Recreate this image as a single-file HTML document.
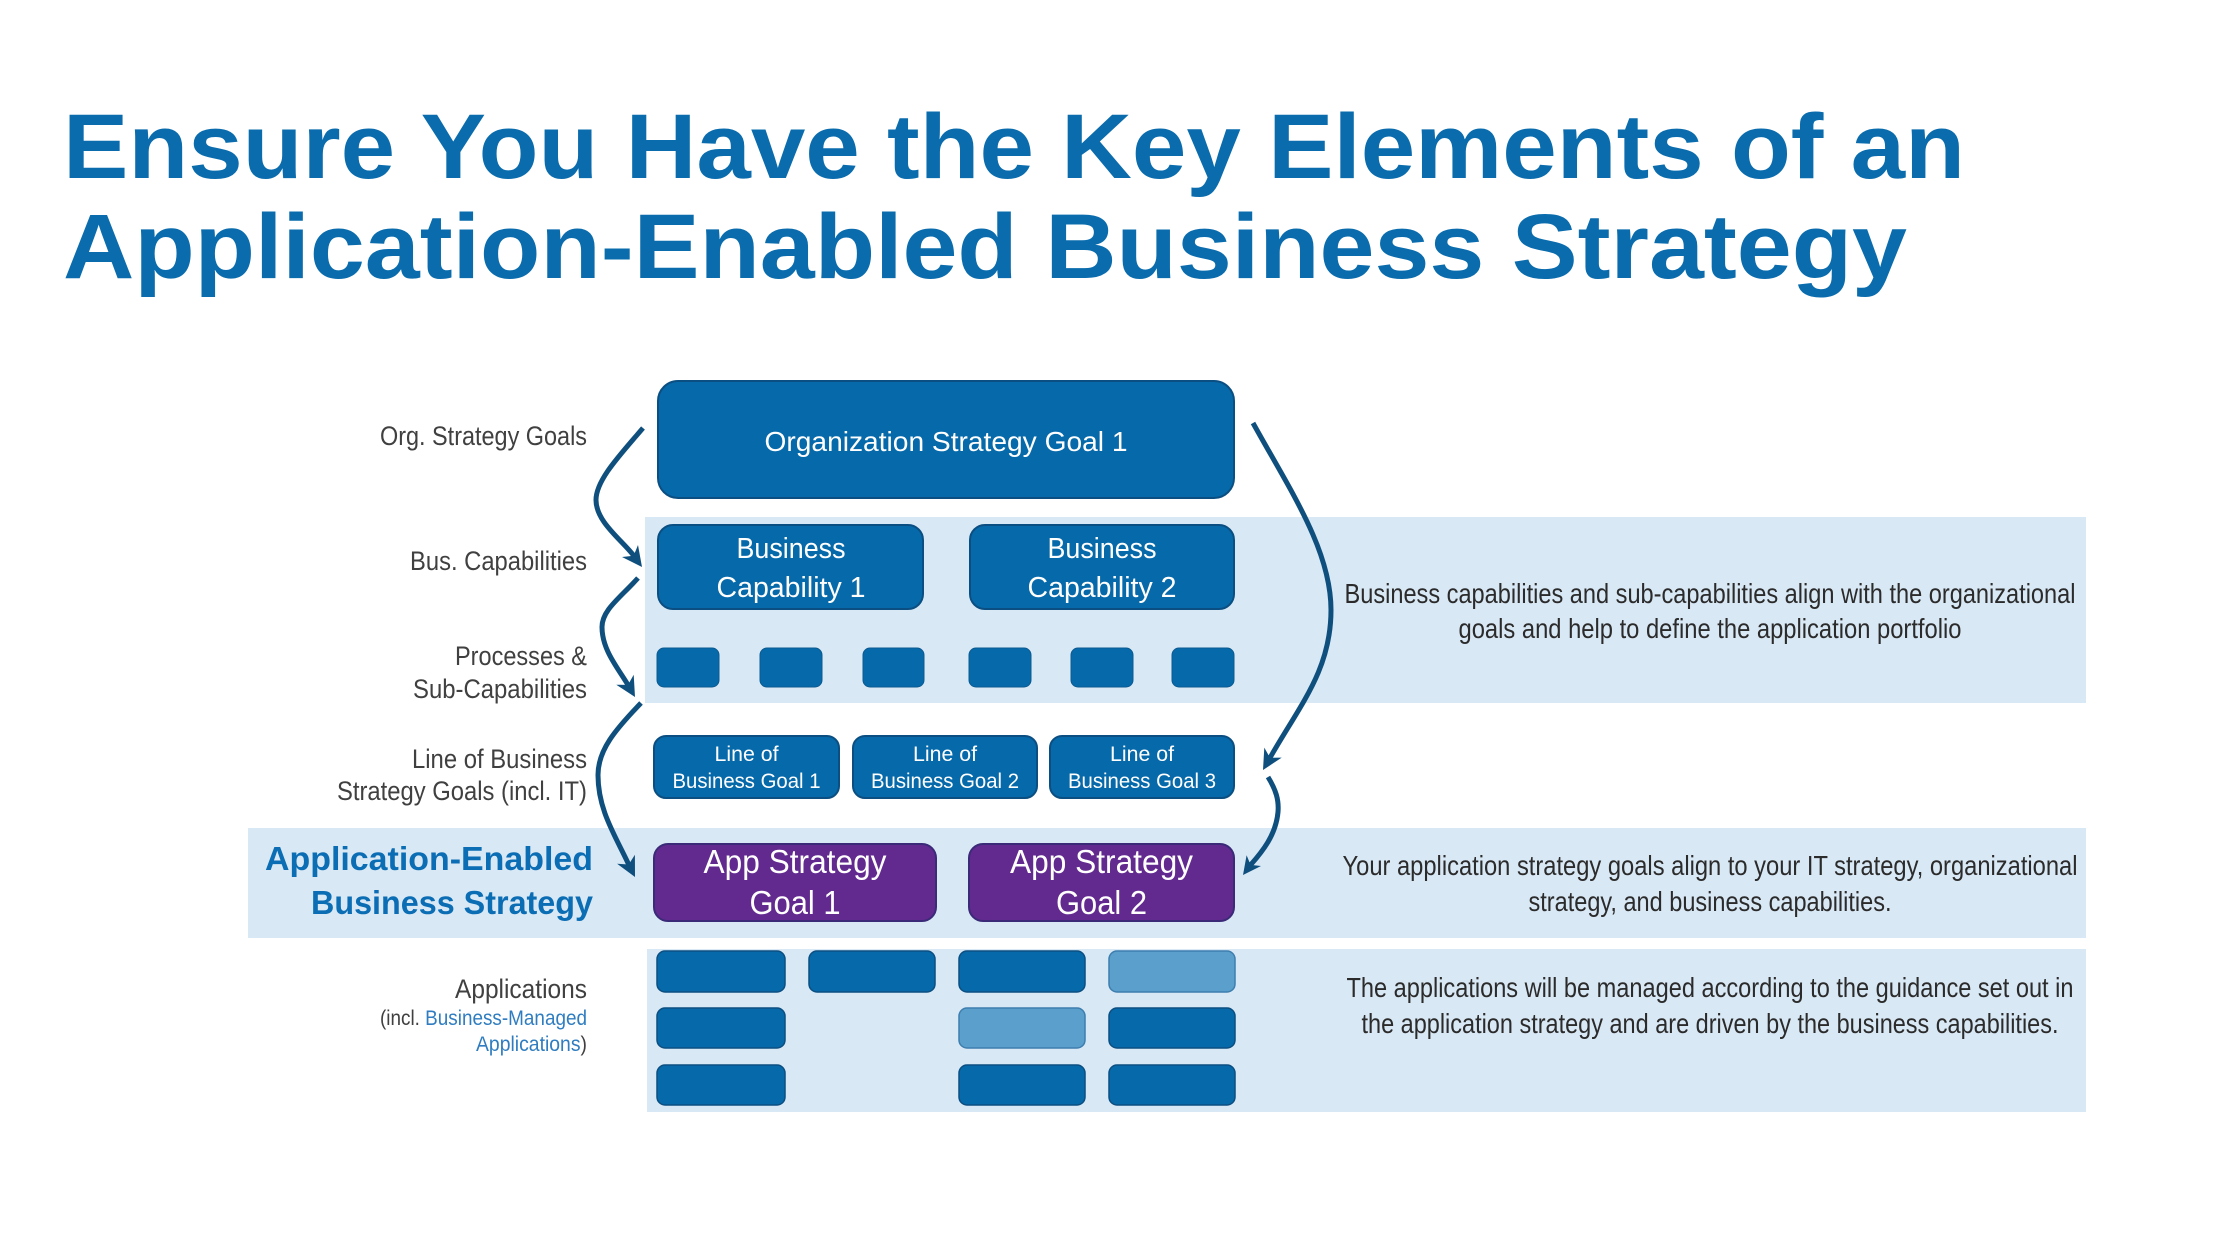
<!DOCTYPE html>
<html>
<head>
<meta charset="utf-8">
<style>
  html,body{margin:0;padding:0;background:#ffffff;}
  svg{display:block;}
  text{font-family:"Liberation Sans", sans-serif;}
</style>
</head>
<body>
<svg width="2236" height="1256" viewBox="0 0 2236 1256" xmlns="http://www.w3.org/2000/svg">
  <!-- Title -->
  <text x="63" y="178" font-size="92" font-weight="bold" fill="#0a6cad" textLength="1902" lengthAdjust="spacingAndGlyphs">Ensure You Have the Key Elements of an</text>
  <text x="63" y="278" font-size="92" font-weight="bold" fill="#0a6cad" textLength="1844" lengthAdjust="spacingAndGlyphs">Application-Enabled Business Strategy</text>

  <!-- Light bands -->
  <rect x="645" y="517" width="1441" height="186" fill="#d9e8f5"/>
  <rect x="248" y="828" width="1838" height="110" fill="#d9e8f5"/>
  <rect x="647" y="949" width="1439" height="163" fill="#d9e8f5"/>

  <!-- Org strategy goal -->
  <rect x="658" y="381" width="576" height="117" rx="20" fill="#0669aa" stroke="#0b4f82" stroke-width="2"/>
  <text x="946" y="451" font-size="28" fill="#ffffff" text-anchor="middle" textLength="363" lengthAdjust="spacingAndGlyphs">Organization Strategy Goal 1</text>

  <!-- Business capabilities -->
  <rect x="658" y="525" width="265" height="84" rx="15" fill="#0669aa" stroke="#0b4f82" stroke-width="2"/>
  <rect x="970" y="525" width="264" height="84" rx="15" fill="#0669aa" stroke="#0b4f82" stroke-width="2"/>
  <text x="791" y="558" font-size="29" fill="#ffffff" text-anchor="middle" textLength="109" lengthAdjust="spacingAndGlyphs">Business</text>
  <text x="791" y="597" font-size="29" fill="#ffffff" text-anchor="middle" textLength="149" lengthAdjust="spacingAndGlyphs">Capability 1</text>
  <text x="1102" y="558" font-size="29" fill="#ffffff" text-anchor="middle" textLength="109" lengthAdjust="spacingAndGlyphs">Business</text>
  <text x="1102" y="597" font-size="29" fill="#ffffff" text-anchor="middle" textLength="149" lengthAdjust="spacingAndGlyphs">Capability 2</text>

  <!-- Processes squares -->
  <g fill="#0669aa" stroke="#0b5a90" stroke-width="1">
    <rect x="657" y="648" width="62" height="39" rx="7"/>
    <rect x="760" y="648" width="62" height="39" rx="7"/>
    <rect x="863" y="648" width="61" height="39" rx="7"/>
    <rect x="969" y="648" width="62" height="39" rx="7"/>
    <rect x="1071" y="648" width="62" height="39" rx="7"/>
    <rect x="1172" y="648" width="62" height="39" rx="7"/>
  </g>

  <!-- Line of business goals -->
  <g fill="#0669aa" stroke="#0b4f82" stroke-width="2">
    <rect x="654" y="736" width="185" height="62" rx="12"/>
    <rect x="853" y="736" width="184" height="62" rx="12"/>
    <rect x="1050" y="736" width="184" height="62" rx="12"/>
  </g>
  <g font-size="21" fill="#ffffff" text-anchor="middle">
    <text x="746.5" y="761" textLength="64" lengthAdjust="spacingAndGlyphs">Line of</text>
    <text x="746.5" y="788" textLength="148" lengthAdjust="spacingAndGlyphs">Business Goal 1</text>
    <text x="945" y="761" textLength="64" lengthAdjust="spacingAndGlyphs">Line of</text>
    <text x="945" y="788" textLength="148" lengthAdjust="spacingAndGlyphs">Business Goal 2</text>
    <text x="1142" y="761" textLength="64" lengthAdjust="spacingAndGlyphs">Line of</text>
    <text x="1142" y="788" textLength="148" lengthAdjust="spacingAndGlyphs">Business Goal 3</text>
  </g>

  <!-- App strategy goals -->
  <rect x="654" y="844" width="282" height="77" rx="14" fill="#62298f" stroke="#3a2a78" stroke-width="2"/>
  <rect x="969" y="844" width="265" height="77" rx="14" fill="#62298f" stroke="#3a2a78" stroke-width="2"/>
  <g font-size="33" fill="#ffffff" text-anchor="middle">
    <text x="795" y="873" textLength="183" lengthAdjust="spacingAndGlyphs">App Strategy</text>
    <text x="795" y="914" textLength="91" lengthAdjust="spacingAndGlyphs">Goal 1</text>
    <text x="1101.5" y="873" textLength="183" lengthAdjust="spacingAndGlyphs">App Strategy</text>
    <text x="1101.5" y="914" textLength="91" lengthAdjust="spacingAndGlyphs">Goal 2</text>
  </g>

  <!-- Applications -->
  <g stroke-width="1.5">
    <rect x="657" y="951" width="128" height="41" rx="8" fill="#0669aa" stroke="#0b4f82"/>
    <rect x="809" y="951" width="126" height="41" rx="8" fill="#0669aa" stroke="#0b4f82"/>
    <rect x="959" y="951" width="126" height="41" rx="8" fill="#0669aa" stroke="#0b4f82"/>
    <rect x="1109" y="951" width="126" height="41" rx="8" fill="#5ba0cc" stroke="#3d7eae"/>

    <rect x="657" y="1008" width="128" height="40" rx="8" fill="#0669aa" stroke="#0b4f82"/>
    <rect x="959" y="1008" width="126" height="40" rx="8" fill="#5ba0cc" stroke="#3d7eae"/>
    <rect x="1109" y="1008" width="126" height="40" rx="8" fill="#0669aa" stroke="#0b4f82"/>

    <rect x="657" y="1065" width="128" height="40" rx="8" fill="#0669aa" stroke="#0b4f82"/>
    <rect x="959" y="1065" width="126" height="40" rx="8" fill="#0669aa" stroke="#0b4f82"/>
    <rect x="1109" y="1065" width="126" height="40" rx="8" fill="#0669aa" stroke="#0b4f82"/>
  </g>

  <!-- Left labels -->
  <g font-size="27" fill="#404040" text-anchor="end">
    <text x="587" y="445" textLength="207" lengthAdjust="spacingAndGlyphs">Org. Strategy Goals</text>
    <text x="587" y="570" textLength="177" lengthAdjust="spacingAndGlyphs">Bus. Capabilities</text>
    <text x="587" y="665" textLength="132" lengthAdjust="spacingAndGlyphs">Processes &amp;</text>
    <text x="587" y="698" textLength="174" lengthAdjust="spacingAndGlyphs">Sub-Capabilities</text>
    <text x="587" y="768" textLength="175" lengthAdjust="spacingAndGlyphs">Line of Business</text>
    <text x="587" y="800" textLength="250" lengthAdjust="spacingAndGlyphs">Strategy Goals (incl. IT)</text>
    <text x="587" y="998" textLength="132" lengthAdjust="spacingAndGlyphs">Applications</text>
  </g>
  <g font-size="21" text-anchor="end">
    <text x="587" y="1025" fill="#404040" textLength="207" lengthAdjust="spacingAndGlyphs">(incl. <tspan fill="#2f7dc0">Business-Managed</tspan></text>
    <text x="587" y="1051" fill="#2f7dc0" textLength="111" lengthAdjust="spacingAndGlyphs">Applications<tspan fill="#404040">)</tspan></text>
  </g>
  <g font-size="33" font-weight="bold" fill="#0b6db4" text-anchor="end">
    <text x="593" y="870" textLength="328" lengthAdjust="spacingAndGlyphs">Application-Enabled</text>
    <text x="593" y="914" textLength="282" lengthAdjust="spacingAndGlyphs">Business Strategy</text>
  </g>

  <!-- Right descriptions -->
  <g font-size="28" fill="#2b2b2b" text-anchor="middle">
    <text x="1710" y="603" textLength="731" lengthAdjust="spacingAndGlyphs">Business capabilities and sub-capabilities align with the organizational</text>
    <text x="1710" y="638" textLength="503" lengthAdjust="spacingAndGlyphs">goals and help to define the application portfolio</text>
    <text x="1710" y="875" textLength="735" lengthAdjust="spacingAndGlyphs">Your application strategy goals align to your IT strategy, organizational</text>
    <text x="1710" y="911" textLength="363" lengthAdjust="spacingAndGlyphs">strategy, and business capabilities.</text>
    <text x="1710" y="997" textLength="727" lengthAdjust="spacingAndGlyphs">The applications will be managed according to the guidance set out in</text>
    <text x="1710" y="1033" textLength="697" lengthAdjust="spacingAndGlyphs">the application strategy and are driven by the business capabilities.</text>
  </g>

  <!-- Arrows -->
  <g fill="none" stroke="#0f4f7e" stroke-width="5">
    <path d="M643,428 C620,455 596,480 596,500 C596,522 622,540 634,556"/>
    <path d="M638,578 C620,598 602,610 602,627 C602,650 618,668 628,685"/>
    <path d="M641,703 C615,730 598,750 598,775 C598,810 615,835 628.7,864.5"/>
    <path d="M1253,423 C1290,490 1331,550 1331,610 C1331,670 1300,705 1270,757.8"/>
    <path d="M1268,777 C1276,790 1279,800 1278,812 C1276,835 1262,852 1250.6,864.9"/>
  </g>
  <g fill="#0f4f7e">
    <polygon points="642,567 622,557 633.6,555.8 638,545"/>
    <polygon points="635,697 616.3,684.7 628,684.9 633.7,674.7"/>
    <polygon points="635,877 617.1,863.7 628.7,864.5 634.9,854.7"/>
    <polygon points="1263,770 1264.3,747.6 1270,757.8 1281.7,757.6"/>
    <polygon points="1243,875 1246.6,855.2 1250.6,864.9 1261,866"/>
  </g>
</svg>
</body>
</html>
